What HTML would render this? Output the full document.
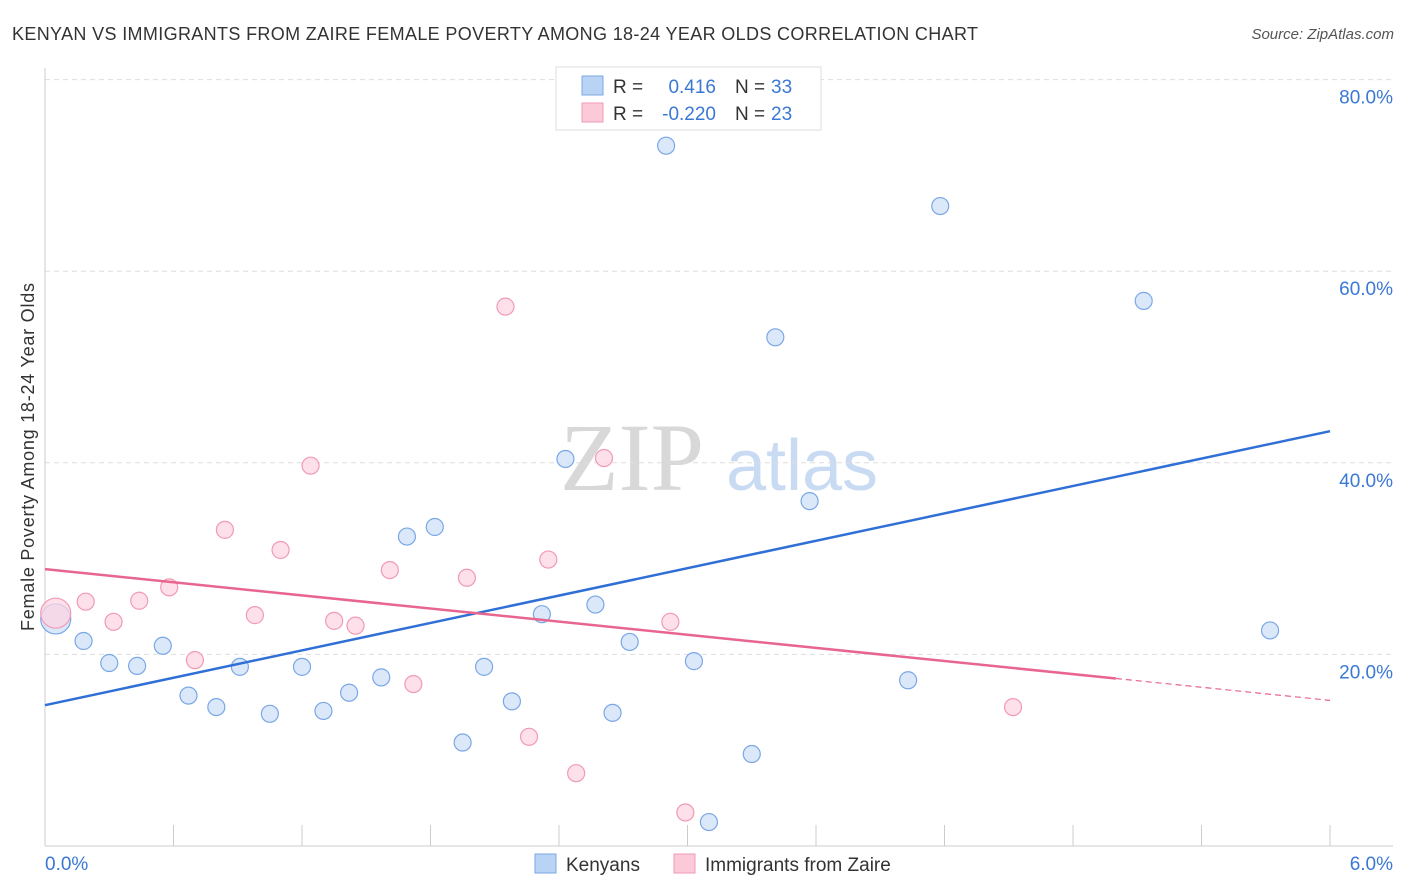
<!DOCTYPE html>
<html><head><meta charset="utf-8"><style>
body{margin:0;background:#fff;font-family:"Liberation Sans",sans-serif}
svg{display:block}
</style></head><body>
<svg id="chart" width="1406" height="892" viewBox="0 0 1406 892" xmlns="http://www.w3.org/2000/svg">
<text x="12" y="40" font-size="18" fill="#333" textLength="966" lengthAdjust="spacing">KENYAN VS IMMIGRANTS FROM ZAIRE FEMALE POVERTY AMONG 18-24 YEAR OLDS CORRELATION CHART</text>
<text x="1394" y="39" font-size="15" fill="#555" font-style="italic" text-anchor="end">Source: ZipAtlas.com</text>
<g>
<text x="632" y="490" font-size="96" font-family="Liberation Serif,serif" fill="#d8d8d8" text-anchor="middle">ZIP</text>
<text x="802" y="490" font-size="72" fill="#c9dbf3" text-anchor="middle">atlas</text>
</g>
<g id="grid"></g>
<g id="axes"></g>
<g id="marks"></g>
<text transform="translate(34,457) rotate(-90)" font-size="18" fill="#333" text-anchor="middle" textLength="348" lengthAdjust="spacing">Female Poverty Among 18-24 Year Olds</text>
<g>
<rect x="556" y="67" width="265" height="63" fill="#fff" stroke="#ddd"/>
<rect x="582" y="76" width="21" height="19" fill="#b9d3f5" stroke="#7aa7e6"/>
<rect x="582" y="103" width="21" height="19" fill="#fcc9d8" stroke="#f19ab5"/>
<text x="613" y="93" font-size="19" fill="#333">R =</text>
<text x="716" y="93" font-size="19" fill="#3a78d4" text-anchor="end">0.416</text>
<text x="735" y="93" font-size="19" fill="#333">N =</text>
<text x="771" y="93" font-size="19" fill="#3a78d4">33</text>
<text x="613" y="120" font-size="19" fill="#333">R =</text>
<text x="716" y="120" font-size="19" fill="#3a78d4" text-anchor="end">-0.220</text>
<text x="735" y="120" font-size="19" fill="#333">N =</text>
<text x="771" y="120" font-size="19" fill="#3a78d4">23</text>
</g>
<g>
<rect x="535" y="854" width="21" height="19" fill="#b9d3f5" stroke="#7aa7e6"/>
<text x="566" y="871" font-size="19" fill="#333">Kenyans</text>
<rect x="674" y="854" width="21" height="19" fill="#fcc9d8" stroke="#f19ab5"/>
<text x="705" y="871" font-size="19" fill="#333">Immigrants from Zaire</text>
</g>
</svg>
<script>
const blueX=[0.05,0.18,0.30,0.43,0.55,0.67,0.80,0.91,1.05,1.20,1.30,1.42,1.57,1.69,1.82,1.95,2.05,2.18,2.32,2.43,2.57,2.65,2.73,2.90,3.03,3.10,3.30,3.41,3.57,4.03,4.18,5.13,5.72];
const blueY=[23.7,21.4,19.1,18.8,20.9,15.7,14.5,18.7,13.8,18.7,14.1,16.0,17.6,32.3,33.3,10.8,18.7,15.1,24.2,40.4,25.2,13.9,21.3,73.1,19.3,2.5,9.6,53.1,36.0,17.3,66.8,56.9,22.5];
const pinkX=[0.05,0.19,0.32,0.44,0.58,0.70,0.84,0.98,1.10,1.24,1.35,1.45,1.61,1.72,1.97,2.15,2.26,2.35,2.48,2.61,2.92,2.99,4.52];
const pinkY=[24.3,25.5,23.4,25.6,27.0,19.4,33.0,24.1,30.9,39.7,23.5,23.0,28.8,16.9,28.0,56.3,11.4,29.9,7.6,40.5,23.4,3.5,14.5];
const blueTrend=[14.7,43.3];
const pinkTrend=[28.9,15.2];
const pinkSolidEnd=5.0;
const yTicks=[20,40,60,80];
const yTickLabels=["20.0%","40.0%","60.0%","80.0%"];
const xTickLabels=["0.0%","6.0%"];
const NS="http://www.w3.org/2000/svg";
const sx=v=>45+v*214.17, sy=v=>846-v*9.58;
function mk(p,t,a){const e=document.createElementNS(NS,t);for(const k in a)e.setAttribute(k,a[k]);p.appendChild(e);return e;}
const grid=document.getElementById('grid'),axes=document.getElementById('axes'),marks=document.getElementById('marks');
yTicks.forEach((t,i)=>{
 const l=mk(grid,'line',{x1:45,x2:1393,y1:sy(t),y2:sy(t),stroke:'#ddd','stroke-dasharray':'5,4'});
 
 
 const tx=mk(axes,'text',{x:1393,y:sy(t)+24,'font-size':19,fill:'#3a78d4','text-anchor':'end'});tx.textContent=yTickLabels[i];
 
 
});
const ax=mk(axes,'line',{x1:45,x2:1393,y1:846,y2:846,stroke:'#ccc'});


const ay=mk(axes,'line',{x1:45,x2:45,y1:68,y2:846,stroke:'#ccc'});


for(let i=1;i<=10;i++){const t=mk(axes,'line',{x1:sx(i*0.6),x2:sx(i*0.6),y1:825,y2:846,stroke:'#ccc'});
 
 }
const xl0=mk(axes,'text',{x:45,y:870,'font-size':19,fill:'#3a78d4'});xl0.textContent=xTickLabels[0];


const xl1=mk(axes,'text',{x:1393,y:870,'font-size':19,fill:'#3a78d4','text-anchor':'end'});xl1.textContent=xTickLabels[1];


function pts(X,Y,fill,stroke,name){X.forEach((x,i)=>{const c=mk(marks,'circle',{cx:sx(x),cy:sy(Y[i]),r:i==0?15:8.5,fill:fill,stroke:stroke,'stroke-width':1.2,'fill-opacity':0.75});
 
 });}
pts(blueX,blueY,'#cfe0f8','#7aa7e6','kenyan-point');
pts(pinkX,pinkY,'#fcd5e1','#f19ab5','zaire-point');
const bl=mk(marks,'line',{x1:sx(0),y1:sy(blueTrend[0]),x2:sx(6),y2:sy(blueTrend[1]),stroke:'#2f6fd6','stroke-width':2.5});


const pm=pinkTrend[0]+(pinkTrend[1]-pinkTrend[0])*pinkSolidEnd/6;
const pl=mk(marks,'line',{x1:sx(0),y1:sy(pinkTrend[0]),x2:sx(pinkSolidEnd),y2:sy(pm),stroke:'#e8658f','stroke-width':2.5});


const pd=mk(marks,'line',{x1:sx(pinkSolidEnd),y1:sy(pm),x2:sx(6),y2:sy(pinkTrend[1]),stroke:'#e8658f','stroke-width':1.2,'stroke-dasharray':'6,4'});


</script>
</body></html>
